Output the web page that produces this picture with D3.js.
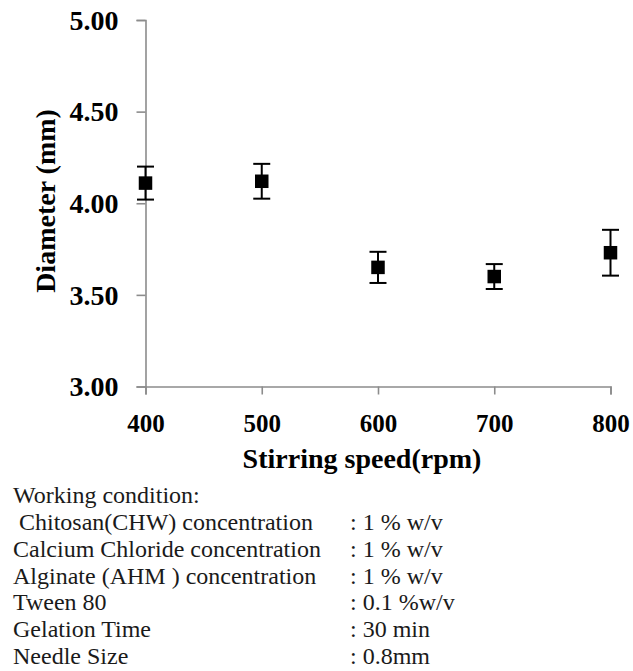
<!DOCTYPE html>
<html>
<head>
<meta charset="utf-8">
<script src="https://cdn.jsdelivr.net/npm/d3@7"></script>
<style>
  body { margin: 0; background: #fff; }
</style>
</head>
<body>
<div id="chart"></div>
<script>
// stirring speed (rpm) vs bead diameter (mm)
const speeds = [400, 500, 600, 700, 800];
const diameters = [4.11, 4.12, 3.65, 3.60, 3.73];
const errors = [0.09, 0.095, 0.085, 0.068, 0.125];

const xTicks = [400, 500, 600, 700, 800];
const yTicks = [3.00, 3.50, 4.00, 4.50, 5.00];

const conditionLabels = [" Chitosan(CHW) concentration", "Calcium Chloride concentration",
    "Alginate (AHM ) concentration", "Tween 80", "Gelation Time", "Needle Size"];
const conditionValues = [": 1 % w/v", ": 1 % w/v", ": 1 % w/v", ": 0.1 %w/v", ": 30 min", ": 0.8mm"];

const width = 633, height = 671;
const serif = "Liberation Serif, DejaVu Serif, Times, serif";

const svg = d3.select("#chart")
    .append("svg")
    .attr("width", width)
    .attr("height", height)
    .attr("font-family", serif);

const x = d3.scaleLinear().domain([400, 800]).range([145.5, 610.5]);
const y = d3.scaleLinear().domain([3, 5]).range([386.5, 20]);

// axes
const xAxis = svg.append("g")
    .attr("transform", "translate(0," + y(3) + ")")
    .call(d3.axisBottom(x).tickValues(xTicks).tickSize(8).tickPadding(20).tickFormat(d3.format("d")));

const yAxis = svg.append("g")
    .attr("transform", "translate(" + x(400) + ",0)")
    .call(d3.axisLeft(y).tickValues(yTicks).tickSize(9).tickPadding(18).tickFormat(d3.format(".2f")));

[xAxis, yAxis].forEach(function(ax) {
    ax.attr("font-family", serif).attr("font-weight", "bold")
    ax.select(".domain").attr("stroke", "#8c8c8c").attr("stroke-width", 1.6)
    ax.selectAll(".tick line").attr("stroke", "#8c8c8c").attr("stroke-width", 1.6)
    ax.selectAll("text").attr("fill", "#000")
});
xAxis.attr("font-size", 25);
xAxis.selectAll("text").attr("dy", "0.71em");
yAxis.attr("font-size", 28);
yAxis.selectAll("text").attr("dy", "0.33em");

// axis titles
svg.append("text")
    .attr("x", 362)
    .attr("y", 468)
    .attr("text-anchor", "middle")
    .attr("font-size", 28)
    .attr("font-weight", "bold")
    .text("Stirring speed(rpm)");

svg.append("text")
    .attr("transform", "translate(55,201) rotate(-90)")
    .attr("text-anchor", "middle")
    .attr("font-size", 28)
    .attr("font-weight", "bold")
    .text("Diameter (mm)");

// error bars
const pts = speeds.map(function(s, i) { return {s: s, d: diameters[i], e: errors[i]} });

const bars = svg.append("g").attr("stroke", "#000").attr("stroke-width", 2);
bars.selectAll("line.v")
    .data(pts)
    .join("line")
    .attr("class", "v")
    .attr("x1", d => x(d.s)).attr("x2", d => x(d.s))
    .attr("y1", d => y(d.d + d.e)).attr("y2", d => y(d.d - d.e));
bars.selectAll("line.top")
    .data(pts)
    .join("line")
    .attr("class", "top")
    .attr("x1", d => x(d.s) - 8.5).attr("x2", d => x(d.s) + 8.5)
    .attr("y1", d => y(d.d + d.e)).attr("y2", d => y(d.d + d.e));
bars.selectAll("line.bot")
    .data(pts)
    .join("line")
    .attr("class", "bot")
    .attr("x1", d => x(d.s) - 8.5).attr("x2", d => x(d.s) + 8.5)
    .attr("y1", d => y(d.d - d.e)).attr("y2", d => y(d.d - d.e));

// square markers
const sz = 13.5;
svg.append("g").selectAll("rect")
    .data(pts)
    .join("rect")
    .attr("x", d => x(d.s) - sz / 2)
    .attr("y", d => y(d.d) - sz / 2)
    .attr("width", sz)
    .attr("height", sz)
    .attr("fill", "#000");

// working condition notes
const notes = svg.append("g")
    .attr("fill", "#1a1a1a")
    .attr("font-size", 24);
notes.append("text")
    .attr("x", 13)
    .attr("y", 503)
    .text("Working condition:");
notes.selectAll("text.lab")
    .data(conditionLabels)
    .join("text")
    .attr("class", "lab")
    .attr("x", 13)
    .attr("y", (d, i) => 530 + i * 26.8)
    .attr("xml:space", "preserve")
    .style("white-space", "pre")
    .text(d => d);
notes.selectAll("text.val")
    .data(conditionValues)
    .join("text")
    .attr("class", "val")
    .attr("x", 350)
    .attr("y", (d, i) => 530 + i * 26.8)
    .text(d => d);
</script>
</body>
</html>
